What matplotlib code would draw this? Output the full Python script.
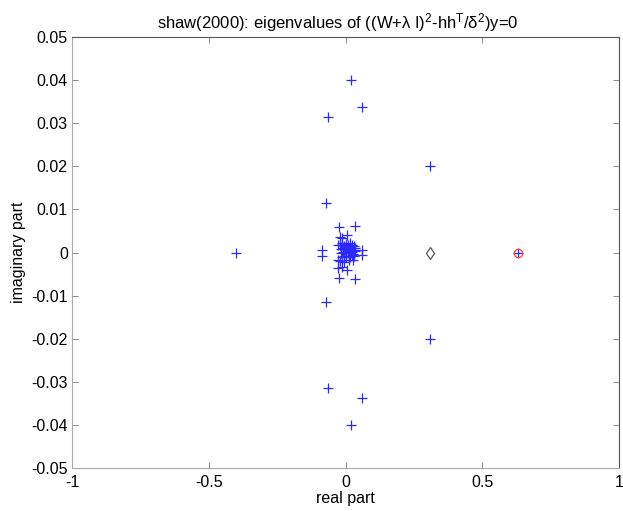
import matplotlib
matplotlib.use('agg')
import matplotlib.pyplot as plt

plt.rcParams['font.family'] = ['Liberation Sans', 'DejaVu Sans']
plt.rcParams['mathtext.fontset'] = 'custom'
plt.rcParams['mathtext.rm'] = 'Liberation Sans'
plt.rcParams['mathtext.it'] = 'Liberation Sans:italic'

# eigenvalues (real, imag)
outer_re = [0.02, 0.06, -0.064, 0.31, -0.07, -0.40, 0.63, -0.07, 0.31, -0.064, 0.06, 0.02]
outer_im = [0.040, 0.0337, 0.0314, 0.0201, 0.0114, 0.0, 0.0, -0.0114, -0.0201, -0.0314, -0.0337, -0.040]

inner_re = [-0.023, 0.035, -0.020, 0.007, -0.012, -0.029, -0.086, -0.086, 0.059, 0.059,
            -0.029, -0.026, -0.012, 0.007, -0.023, 0.035]
inner_im = [0.0060, 0.0062, 0.0037, 0.0041, 0.0033, 0.0017, 0.0006, -0.0008, 0.0006, -0.0006,
            -0.0017, -0.0035, -0.0033, -0.0041, -0.0060, -0.0062]

# dense blob around the origin
blob_re = [-0.020, -0.012, -0.005, 0.002, 0.009, 0.016, 0.023, 0.030, 0.036,
           -0.018, -0.010, -0.002, 0.006, 0.013, 0.020, 0.027, 0.034,
           -0.016, -0.008, 0.000, 0.008, 0.015, 0.022, 0.029,
           -0.014, -0.006, 0.003, 0.011, 0.018, 0.025, 0.032,
           -0.019, -0.004, 0.012, 0.028]
blob_im = [0.0018, 0.0021, 0.0016, 0.0020, 0.0017, 0.0021, 0.0018, 0.0016, 0.0010,
           0.0008, 0.0011, 0.0006, 0.0010, 0.0007, 0.0011, 0.0006, 0.0003,
           -0.0002, 0.0001, -0.0001, 0.0002, -0.0002, 0.0001, -0.0003,
           -0.0010, -0.0007, -0.0011, -0.0008, -0.0010, -0.0006, -0.0009,
           -0.0019, -0.0021, -0.0018, -0.0017]

diamond_re = [0.31]
diamond_im = [0.0]
circle_re = [0.63]
circle_im = [0.0]

fig = plt.figure(figsize=(6.23, 5.11), dpi=100)
ax = fig.add_axes([0.1156, 0.0841, 0.878, 0.8435])

blue = '#2a2aff'
ax.plot(blob_re, blob_im, '+', color=blue, ms=7, mew=0.9)
ax.plot(inner_re, inner_im, '+', color=blue, ms=7, mew=0.9)
ax.plot(outer_re, outer_im, '+', color=blue, ms=7, mew=0.9)
ax.plot(diamond_re, diamond_im, 'd', mfc='none', mec='#555555', ms=6, mew=0.9)
ax.plot(circle_re, circle_im, 'o', mfc='none', mec='#ff4040', ms=6, mew=0.9)

ax.set_xlim(-1, 1)
ax.set_ylim(-0.05, 0.05)
ax.set_xticks([-1, -0.5, 0, 0.5, 1])
ax.set_xticklabels(['-1', '-0.5', '0', '0.5', '1'])
ax.set_yticks([-0.05, -0.04, -0.03, -0.02, -0.01, 0, 0.01, 0.02, 0.03, 0.04, 0.05])
ax.set_yticklabels(['-0.05', '-0.04', '-0.03', '-0.02', '-0.01', '0',
                    '0.01', '0.02', '0.03', '0.04', '0.05'])
ax.tick_params(direction='in', length=4, width=0.6, color='#777777',
               top=True, right=True, labelsize=11.5)
ax.tick_params(axis='x', pad=5)
ax.tick_params(axis='y', pad=3)

for side in ['left', 'bottom']:
    ax.spines[side].set_color('#aaaaaa')
for side in ['top', 'right']:
    ax.spines[side].set_color('#555555')
for s in ax.spines.values():
    s.set_linewidth(0.8)

ax.set_title(r'shaw(2000): eigenvalues of ((W+λ I)$^{2}$-hh$^{\mathrm{T}}$/δ$^{2}$)y=0',
             fontsize=12, pad=6, x=0.485)
ax.set_xlabel('real part', fontsize=11.5, labelpad=1)
ax.set_ylabel('imaginary part', fontsize=11.5, labelpad=4)

plt.savefig('out.png', dpi=100)
